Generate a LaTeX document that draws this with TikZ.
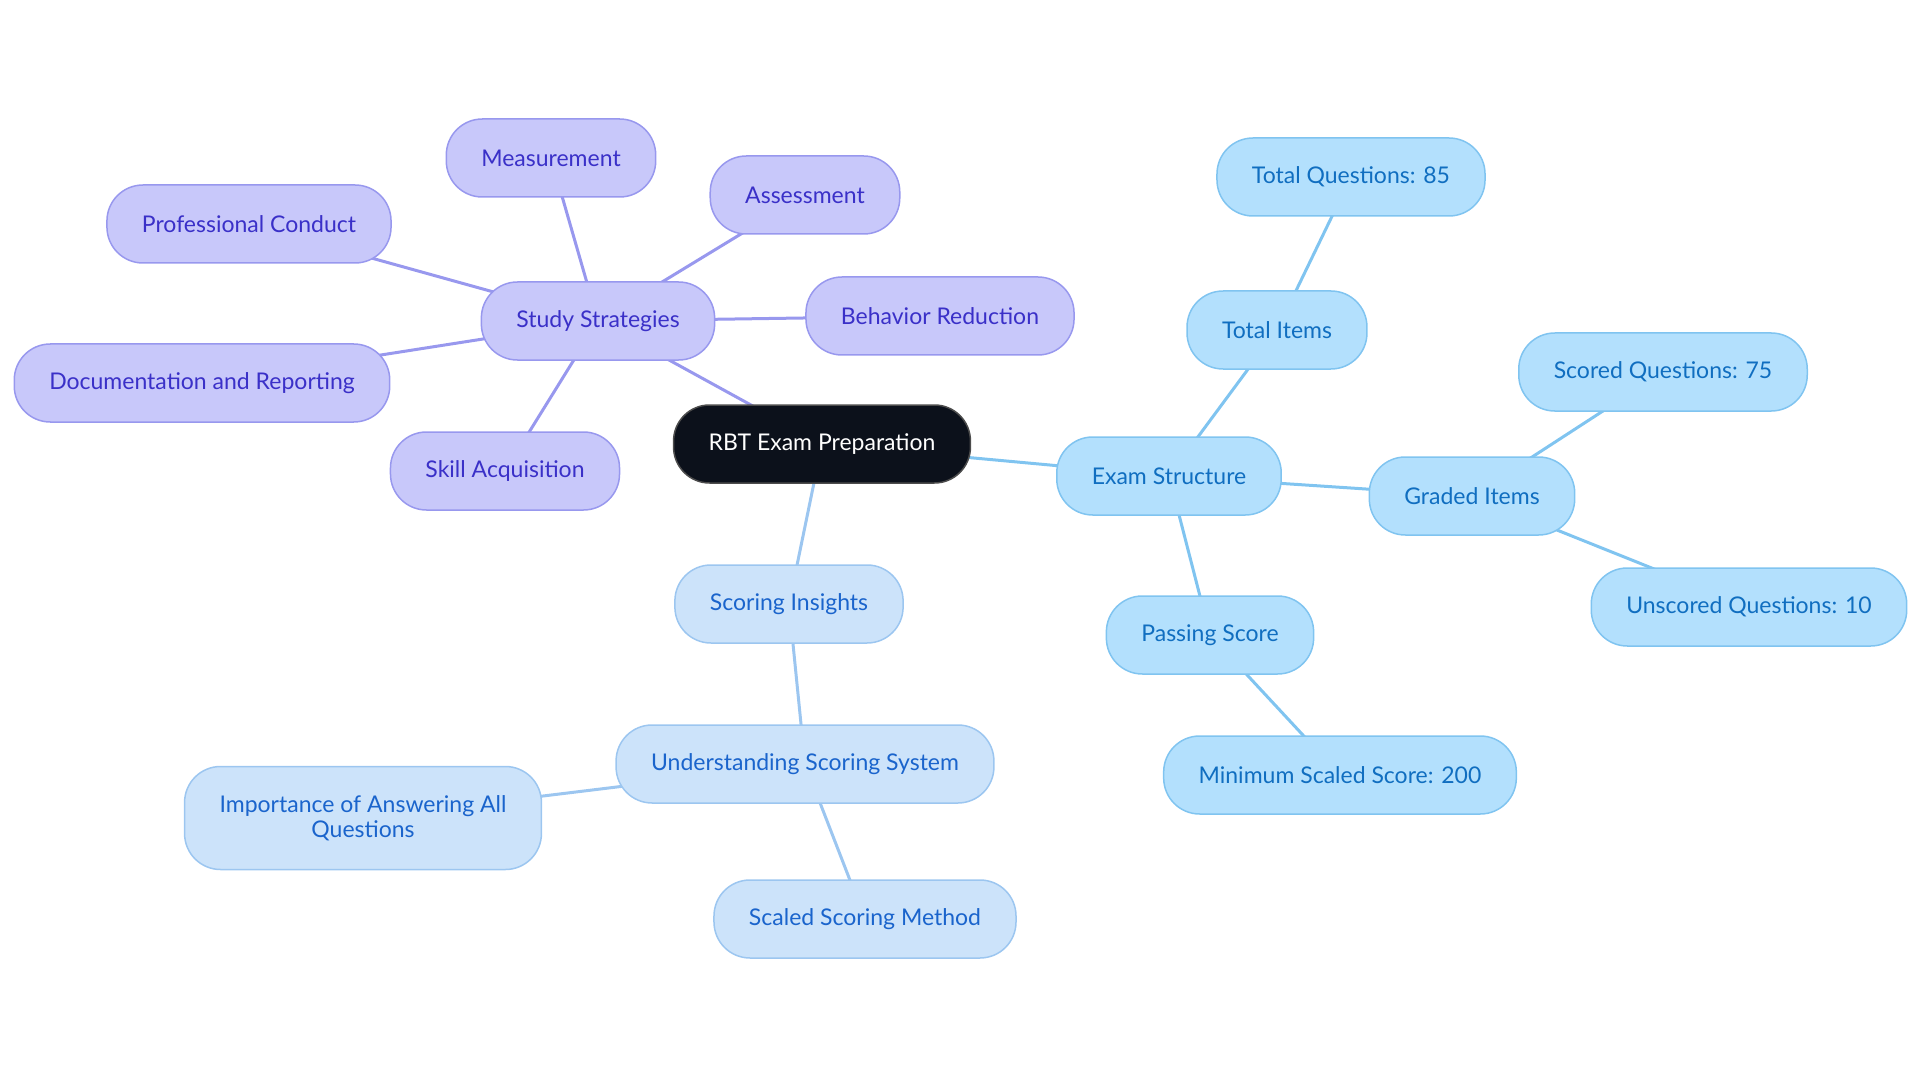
\documentclass[tikz,border=0pt]{standalone}
\usepackage{fontspec}
\setmainfont{Lato}
\usetikzlibrary{backgrounds}
\definecolor{rootfill}{HTML}{0C111B}
\definecolor{stratfill}{HTML}{C8C8FA}
\definecolor{stratdraw}{HTML}{9898EE}
\definecolor{strattext}{HTML}{3A30C8}
\definecolor{examfill}{HTML}{B3E0FD}
\definecolor{examdraw}{HTML}{80C4F0}
\definecolor{examtext}{HTML}{106EC0}
\definecolor{scorefill}{HTML}{CCE3FA}
\definecolor{scoredraw}{HTML}{9CC6F0}
\definecolor{scoretext}{HTML}{1A64CC}
\tikzset{
  pill/.style={rectangle, rounded corners=36pt, minimum height=78pt, inner xsep=35pt,
    line width=1.5pt, align=center, font=\fontsize{23}{25}\selectfont},
  rootnode/.style={pill, fill=rootfill, draw=gray!60!black, text=white},
  stratnode/.style={pill, fill=stratfill, draw=stratdraw, text=strattext},
  examnode/.style={pill, fill=examfill, draw=examdraw, text=examtext},
  scorenode/.style={pill, fill=scorefill, draw=scoredraw, text=scoretext},
  stratline/.style={line width=3pt, draw=stratdraw},
  examline/.style={line width=3pt, draw=examdraw},
  scoreline/.style={line width=3pt, draw=scoredraw},
}
\begin{document}
\begin{tikzpicture}[x=1pt,y=-1pt]
\useasboundingbox (0,0) rectangle (1920,1083);
\node[rootnode] (rbt) at (822,444) {RBT Exam Preparation};

\node[stratnode] (study) at (598,321) {Study Strategies};
\node[stratnode] (measure) at (551,158) {Measurement};
\node[stratnode] (assess) at (805,195) {Assessment};
\node[stratnode] (conduct) at (249,224) {Professional Conduct};
\node[stratnode] (behav) at (940,316) {Behavior Reduction};
\node[stratnode] (docu) at (202,383) {Documentation and Reporting};
\node[stratnode] (skill) at (505,471) {Skill Acquisition};

\node[examnode] (exam) at (1169,476) {Exam Structure};
\node[examnode] (items) at (1277,330) {Total Items};
\node[examnode] (total) at (1351,177) {Total Questions: 85};
\node[examnode] (graded) at (1472,496) {Graded Items};
\node[examnode] (scored) at (1663,372) {Scored Questions: 75};
\node[examnode] (unscored) at (1749,607) {Unscored Questions: 10};
\node[examnode] (passing) at (1210,635) {Passing Score};
\node[examnode] (minimum) at (1340,775) {Minimum Scaled Score: 200};

\node[scorenode] (insight) at (789,604) {Scoring Insights};
\node[scorenode] (system) at (805,764) {Understanding Scoring System};
\node[scorenode, minimum height=103pt] (answer) at (363,818) {Importance of Answering All\\Questions};
\node[scorenode] (method) at (865,919) {Scaled Scoring Method};

% connectors behind the nodes
\begin{scope}[on background layer]
\draw[stratline] (rbt.center) -- (study.center);
\foreach \leaf in {measure,assess,conduct,behav,docu,skill}
  \draw[stratline] (study.center) -- (\leaf.center);
\draw[examline] (rbt.center) -- (exam.center);
\foreach \leaf in {items,graded,passing}
  \draw[examline] (exam.center) -- (\leaf.center);
\draw[examline] (items.center) -- (total.center);
\draw[examline] (graded.center) -- (scored.center);
\draw[examline] (graded.center) -- (unscored.center);
\draw[examline] (passing.center) -- (minimum.center);
\draw[scoreline] (rbt.center) -- (insight.center);
\draw[scoreline] (insight.center) -- (system.center);
\draw[scoreline] (system.center) -- (answer.center);
\draw[scoreline] (system.center) -- (method.center);
\end{scope}
\end{tikzpicture}
\end{document}
